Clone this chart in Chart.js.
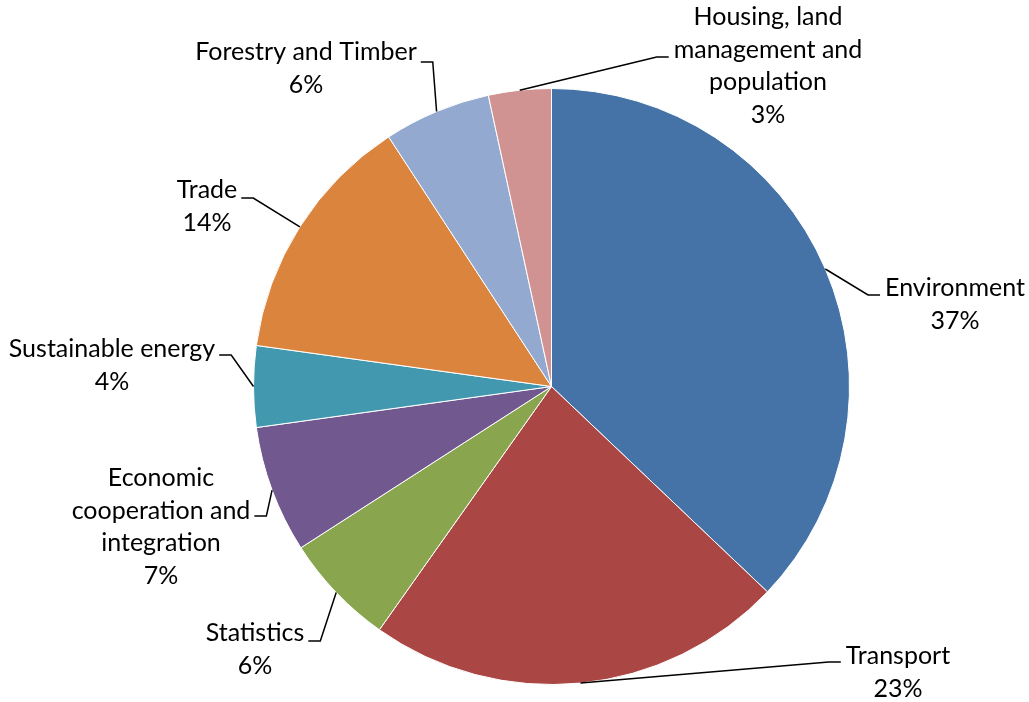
<!DOCTYPE html>
<html>
<head>
<meta charset="utf-8">
<title>Projects by area</title>
<script src="https://cdn.jsdelivr.net/npm/chart.js@4.4.1/dist/chart.umd.min.js"></script>
<style>
    html, body { margin: 0; padding: 0; background: #fff; }
    #wrap { width: 1029px; height: 702px; }
</style>
</head>
<body>
<div id="wrap"><canvas id="pieChart" width="1029" height="702"></canvas></div>
<script>
// Share of projects by area (clockwise from 12 o'clock)
const categories = [
    'Environment',
    'Transport',
    'Statistics',
    'Economic\ncooperation and\nintegration',
    'Sustainable energy',
    'Trade',
    'Forestry and Timber',
    'Housing, land\nmanagement and\npopulation'
];
const shares = [37.1, 22.7, 6.1, 6.9, 4.4, 13.6, 5.8, 3.4];
const sliceColors = ['#4572A7', '#AA4643', '#89A54E', '#71588F', '#4198AF', '#DB843D', '#93A9CF', '#D19392'];

// where each outside label sits: text centre x, first line y, leader y, leader side
const labelSpots = [
    { x: 955, y: 288, ly: 295, side: 'left' },
    { x: 898, y: 656, ly: 662, side: 'left' },
    { x: 255, y: 633, ly: 641, side: 'right' },
    { x: 161, y: 478, ly: 516, side: 'right' },
    { x: 112, y: 349, ly: 355, side: 'right' },
    { x: 207, y: 190, ly: 198, side: 'right' },
    { x: 306, y: 52, ly: 62, side: 'right' },
    { x: 768, y: 17, ly: 57, side: 'left' }
];

const FONT = '25px Lato, "Liberation Sans", sans-serif';
const LINE_H = 32.7;

const outsideLabels = {
    id: 'outsideLabels',
    afterDatasetsDraw(chart) {
        const ctx = chart.ctx;
        const meta = chart.getDatasetMeta(0);
        const total = shares.reduce((a, b) => a + b, 0);
        ctx.save();
        ctx.font = FONT;
        ctx.fillStyle = '#000';
        ctx.textAlign = 'center';
        ctx.textBaseline = 'middle';
        ctx.strokeStyle = '#000';
        ctx.lineWidth = 1.5;

        meta.data.forEach((arc, i) => {
            const spot = labelSpots[i];
            const lines = categories[i].split('\n');
            lines.push(Math.round(shares[i] / total * 100) + '%');

            lines.forEach((t, k) => ctx.fillText(t, spot.x, spot.y + k * LINE_H));

            // leader line: edge of the slice at mid angle -> elbow -> short horizontal
            const p = arc.getProps(['x', 'y', 'startAngle', 'endAngle', 'outerRadius'], true);
            const mid = (p.startAngle + p.endAngle) / 2;
            const ex = p.x + Math.cos(mid) * p.outerRadius;
            const ey = p.y + Math.sin(mid) * p.outerRadius;

            const widest = Math.max(...lines.map(t => ctx.measureText(t).width));
            let hx0, hx1;
            if (spot.side === 'left') {
                hx0 = spot.x - widest / 2 - 5;
                hx1 = hx0 - 12;
            } else {
                hx0 = spot.x + widest / 2 + 4;
                hx1 = hx0 + 12;
            }
            ctx.beginPath();
            ctx.moveTo(hx0, spot.ly);
            ctx.lineTo(hx1, spot.ly);
            ctx.lineTo(ex, ey);
            ctx.stroke();
        });
        ctx.restore();
    }
};

new Chart(document.getElementById('pieChart'), {
    type: 'pie',
    data: {
        labels: categories,
        datasets: [{
            data: shares,
            backgroundColor: sliceColors,
            borderColor: '#ffffff',
            borderWidth: 1
        }]
    },
    options: {
        responsive: false,
        animation: false,
        layout: {
            padding: { left: 253, right: 179, top: 88, bottom: 17 }
        },
        plugins: {
            legend: { display: false },
            tooltip: { enabled: false }
        }
    },
    plugins: [outsideLabels]
});
</script>
</body>
</html>
